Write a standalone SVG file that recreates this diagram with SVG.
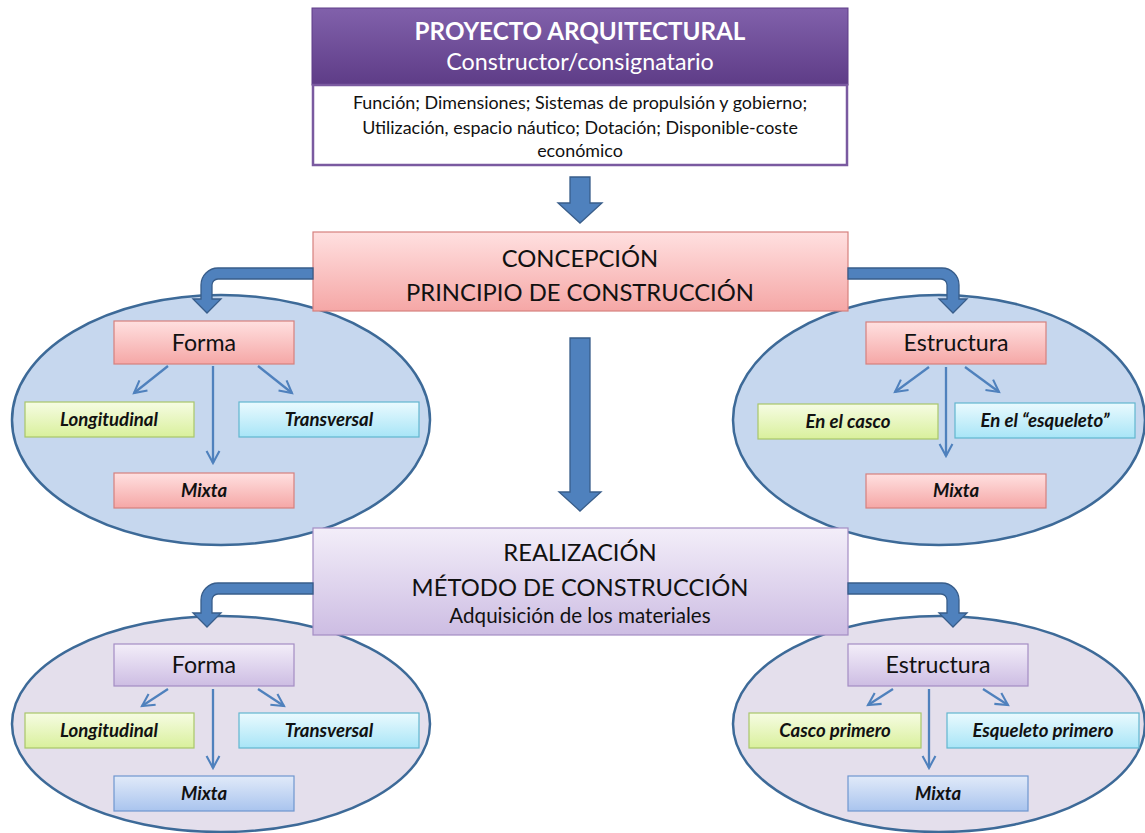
<svg xmlns="http://www.w3.org/2000/svg" width="1145" height="833" viewBox="0 0 1145 833">
<defs>
<linearGradient id="gHead" x1="0" y1="0" x2="0" y2="1"><stop offset="0" stop-color="#8161ab"/><stop offset="1" stop-color="#5e3c87"/></linearGradient>
<linearGradient id="gPink" x1="0" y1="0" x2="0" y2="1"><stop offset="0" stop-color="#ffe0e0"/><stop offset="1" stop-color="#f5a7a6"/></linearGradient>
<linearGradient id="gLav" x1="0" y1="0" x2="0" y2="1"><stop offset="0" stop-color="#f3eef9"/><stop offset="1" stop-color="#cdbde3"/></linearGradient>
<linearGradient id="gGreen" x1="0" y1="0" x2="0" y2="1"><stop offset="0" stop-color="#f6fce3"/><stop offset="1" stop-color="#d9f09c"/></linearGradient>
<linearGradient id="gCyan" x1="0" y1="0" x2="0" y2="1"><stop offset="0" stop-color="#eafafe"/><stop offset="1" stop-color="#a8e5f7"/></linearGradient>
<linearGradient id="gBlue" x1="0" y1="0" x2="0" y2="1"><stop offset="0" stop-color="#e1eaf9"/><stop offset="1" stop-color="#a9c4ee"/></linearGradient>
<marker id="ah" viewBox="0 0 10 10" refX="8.5" refY="5" markerWidth="7" markerHeight="7" orient="auto" markerUnits="strokeWidth">
<path d="M1,1 L8.5,5 L1,9" fill="none" stroke="#4f81bd" stroke-width="1.3"/>
</marker>
</defs>
<style>
.ellB{fill:#c6d7ee;stroke:#3d6a98;stroke-width:2.5}
.ellL{fill:#e4dfec;stroke:#3d6a98;stroke-width:2.5}
.pink{fill:url(#gPink);stroke:#d6807e;stroke-width:1.2}
.lav{fill:url(#gLav);stroke:#a48dc4;stroke-width:1.2}
.green{fill:url(#gGreen);stroke:#a9c66a;stroke-width:1.2}
.cyan{fill:url(#gCyan);stroke:#62b6cf;stroke-width:1.2}
.blue{fill:url(#gBlue);stroke:#6f97cf;stroke-width:1.2}
.big{fill:#4f81bd;stroke:#385d8a;stroke-width:1.3}
.thin{stroke:#4f81bd;stroke-width:2.3;fill:none;marker-end:url(#ah)}
text{font-family:Lato,"Liberation Sans",sans-serif;text-anchor:middle;fill:#111}
.t28{font-size:23.8px}
.t22{font-size:23.2px}
.lbl{font-size:18.6px;font-weight:bold;font-style:italic}
.body{font-size:17.9px}
</style>

<g id="ellipses">
<ellipse id="ell-forma-1" class="ellB" cx="221" cy="420" rx="209" ry="125"/>
<ellipse id="ell-estr-1" class="ellB" cx="939" cy="420" rx="206" ry="125"/>
<ellipse id="ell-forma-2" class="ellL" cx="221" cy="724" rx="209" ry="108"/>
<ellipse id="ell-estr-2" class="ellL" cx="939" cy="724" rx="206" ry="108"/>
</g>

<g id="proyecto">
<rect x="312" y="8" width="536" height="77" fill="url(#gHead)" stroke="#5e3c87" stroke-width="1"/>
<rect x="313" y="85" width="534" height="80" fill="#fff" stroke="#7a5aa0" stroke-width="2.5"/>
<text x="580" y="40" style="font-size:24.2px;font-weight:bold;fill:#fff">PROYECTO ARQUITECTURAL</text>
<text x="580" y="70" style="font-size:23.3px;fill:#fff">Constructor/consignatario</text>
<text class="body" x="580" y="109">Función; Dimensiones; Sistemas de propulsión y gobierno;</text>
<text class="body" x="580" y="134">Utilización, espacio náutico; Dotación; Disponible-coste</text>
<text class="body" x="580" y="157">económico</text>
</g>

<g id="concepcion">
<rect class="pink" x="313" y="232" width="535" height="79"/>
<text class="t28" x="580" y="267">CONCEPCIÓN</text>
<text class="t28" x="580" y="301">PRINCIPIO DE CONSTRUCCIÓN</text>
</g>

<g id="realizacion">
<rect class="lav" x="313" y="528" width="535" height="107"/>
<text class="t28" x="580" y="561">REALIZACIÓN</text>
<text class="t28" x="580" y="596">MÉTODO DE CONSTRUCCIÓN</text>
<text x="580" y="623" style="font-size:20.6px">Adquisición de los materiales</text>
</g>

<g id="forma-1"><rect class="pink" x="114" y="321" width="180" height="43"/><text class="t22" x="204" y="351">Forma</text></g>
<g id="longitudinal-1"><rect class="green" x="25" y="402" width="169" height="35"/><text class="lbl" x="109" y="426">Longitudinal</text></g>
<g id="transversal-1"><rect class="cyan" x="239" y="402" width="180" height="35"/><text class="lbl" x="329" y="426">Transversal</text></g>
<g id="mixta-1"><rect class="pink" x="114" y="473" width="180" height="35"/><text class="lbl" x="204" y="497">Mixta</text></g>

<g id="estructura-1"><rect class="pink" x="866" y="322" width="180" height="42"/><text class="t22" x="956" y="351">Estructura</text></g>
<g id="casco-1"><rect class="green" x="758" y="404" width="180" height="35"/><text class="lbl" x="848" y="428">En el casco</text></g>
<g id="esqueleto-1"><rect class="cyan" x="955" y="403" width="180" height="35"/><text class="lbl" x="1045" y="427">En el “esqueleto”</text></g>
<g id="mixta-2"><rect class="pink" x="866" y="474" width="180" height="34"/><text class="lbl" x="956" y="497">Mixta</text></g>

<g id="forma-2"><rect class="lav" x="114" y="644" width="180" height="42"/><text class="t22" x="204" y="673">Forma</text></g>
<g id="longitudinal-2"><rect class="green" x="25" y="713" width="169" height="35"/><text class="lbl" x="109" y="737">Longitudinal</text></g>
<g id="transversal-2"><rect class="cyan" x="239" y="713" width="180" height="35"/><text class="lbl" x="329" y="737">Transversal</text></g>
<g id="mixta-3"><rect class="blue" x="114" y="776" width="180" height="35"/><text class="lbl" x="204" y="800">Mixta</text></g>

<g id="estructura-2"><rect class="lav" x="848" y="644" width="180" height="42"/><text class="t22" x="938" y="673">Estructura</text></g>
<g id="casco-2"><rect class="green" x="749" y="713" width="172" height="35"/><text class="lbl" x="835" y="737">Casco primero</text></g>
<g id="esqueleto-2"><rect class="cyan" x="947" y="713" width="192" height="35"/><text class="lbl" x="1043" y="737">Esqueleto primero</text></g>
<g id="mixta-4"><rect class="blue" x="848" y="776" width="180" height="35"/><text class="lbl" x="938" y="800">Mixta</text></g>

<g id="connectors">
<path class="big" d="M570 177 H590 V203 H602 L580 223 L558 203 H570 Z"/>
<path class="big" d="M570 338 H590 V492 H601 L580 511 L559 492 H570 Z"/>
<path class="big" d="M313 268 H218 A17 17 0 0 0 201 285 V299 H193 L207 313 L221 299 H212 V285 A6 6 0 0 1 218 279 H313 Z"/>
<path class="big" d="M848 268 H942 A17 17 0 0 1 959 285 V299 H967 L953 313 L939 299 H947 V285 A6 6 0 0 0 941 279 H848 Z"/>
<path class="big" d="M313 583 H218 A17 17 0 0 0 201 600 V613 H193 L207 627 L221 613 H212 V600 A6 6 0 0 1 218 594 H313 Z"/>
<path class="big" d="M848 583 H942 A17 17 0 0 1 959 600 V613 H967 L953 627 L939 613 H947 V600 A6 6 0 0 0 941 594 H848 Z"/>
<line class="thin" x1="168" y1="366" x2="134" y2="393"/>
<line class="thin" x1="213" y1="366" x2="213" y2="463"/>
<line class="thin" x1="258" y1="366" x2="292" y2="393"/>
<line class="thin" x1="929" y1="367" x2="895" y2="392"/>
<line class="thin" x1="946" y1="367" x2="946" y2="456"/>
<line class="thin" x1="965" y1="367" x2="999" y2="392"/>
<line class="thin" x1="168" y1="689" x2="142" y2="706"/>
<line class="thin" x1="213" y1="689" x2="213" y2="768"/>
<line class="thin" x1="258" y1="689" x2="284" y2="706"/>
<line class="thin" x1="893" y1="689" x2="868" y2="705"/>
<line class="thin" x1="929" y1="689" x2="929" y2="768"/>
<line class="thin" x1="983" y1="689" x2="1008" y2="705"/>
</g>
</svg>
